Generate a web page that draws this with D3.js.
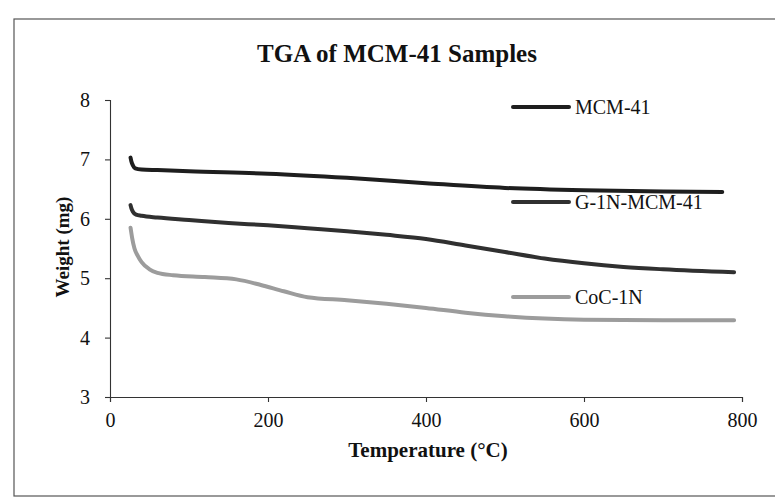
<!DOCTYPE html>
<html>
<head>
<meta charset="utf-8">
<script src="https://cdn.jsdelivr.net/npm/d3@7"></script>
<style>
  body { margin: 0; background: #fff; }
  svg { display: block; }
</style>
</head>
<body>
<div id="wrapper"></div>
<script>
// data
const seriesNames = ["MCM-41", "G-1N-MCM-41", "CoC-1N"];

const tempMCM = [26, 27, 29, 32, 40, 60, 100, 200, 300, 400, 500, 600, 700, 775];
const weightMCM = [7.03, 6.97, 6.9, 6.85, 6.83, 6.82, 6.8, 6.76, 6.69, 6.6, 6.52, 6.48, 6.46, 6.45];

const tempG1N = [26, 27, 29, 33, 40, 60, 100, 150, 200, 250, 300, 350, 400, 450, 500, 550, 600, 650, 700, 790];
const weightG1N = [6.23, 6.18, 6.12, 6.07, 6.05, 6.02, 5.98, 5.93, 5.89, 5.84, 5.79, 5.73, 5.66, 5.55, 5.44, 5.33, 5.25, 5.19, 5.15, 5.1];

const tempCoC = [26, 28, 31, 35, 40, 50, 60, 80, 120, 160, 190, 220, 250, 300, 350, 400, 450, 500, 550, 600, 700, 790];
const weightCoC = [5.85, 5.68, 5.5, 5.38, 5.27, 5.15, 5.09, 5.05, 5.02, 4.98, 4.89, 4.78, 4.68, 4.63, 4.57, 4.5, 4.42, 4.36, 4.32, 4.3, 4.29, 4.29];

const xTickValues = [0, 200, 400, 600, 800];
const yTickValues = [3, 4, 5, 6, 7, 8];

const chartTitle = "TGA of MCM-41 Samples";
const xTitle = "Temperature (\u00B0C)";
const yTitle = "Weight (mg)";

const series = [
  { name: seriesNames[0], temp: tempMCM, weight: weightMCM, color: "#1e1e1e" },
  { name: seriesNames[1], temp: tempG1N, weight: weightG1N, color: "#303030" },
  { name: seriesNames[2], temp: tempCoC, weight: weightCoC, color: "#9c9c9c" },
];

const dimensions = {
  width: 775,
  height: 498,
  margin: { top: 100, right: 33, bottom: 101, left: 110 },
};
dimensions.boundedWidth = dimensions.width - dimensions.margin.left - dimensions.margin.right;
dimensions.boundedHeight = dimensions.height - dimensions.margin.top - dimensions.margin.bottom;

const serif = "'Liberation Serif', 'Times New Roman', serif";

const wrapper = d3
  .select("#wrapper")
  .append("svg")
  .attr("width", dimensions.width)
  .attr("height", dimensions.height);

// outer frame of the scanned figure
wrapper
  .append("rect")
  .attr("x", 14)
  .attr("y", 19)
  .attr("width", dimensions.width + 10)
  .attr("height", 477)
  .attr("fill", "none")
  .attr("stroke", "#555")
  .attr("stroke-width", 1.2);

const bound = wrapper
  .append("g")
  .attr("transform", `translate(${dimensions.margin.left},${dimensions.margin.top})`);

// scales
const xScale = d3.scaleLinear().domain([0, 800]).range([0, dimensions.boundedWidth]);
const yScale = d3.scaleLinear().domain([3, 8]).range([dimensions.boundedHeight, 0]);

// axes
const xAxis = d3
  .axisBottom(xScale)
  .tickValues(xTickValues)
  .tickFormat(d3.format(".0f"))
  .tickSize(5)
  .tickPadding(11);
const yAxis = d3
  .axisLeft(yScale)
  .tickValues(yTickValues)
  .tickFormat(d3.format(".0f"))
  .tickSize(5)
  .tickPadding(15);

bound
  .append("g")
  .attr("class", "x-axis")
  .attr("transform", `translate(0,${dimensions.boundedHeight})`)
  .call(xAxis);

bound.append("g").attr("class", "y-axis").call(yAxis);

bound
  .selectAll(".domain, .tick line")
  .attr("stroke", "#333")
  .attr("stroke-width", 1.1);

bound
  .selectAll(".tick text")
  .attr("fill", "#111")
  .style("font-family", serif)
  .style("font-size", "20px");

// lines
const line = d3
  .line()
  .curve(d3.curveMonotoneX)
  .x((d) => xScale(d[0]))
  .y((d) => yScale(d[1]));

bound
  .append("g")
  .attr("class", "lines")
  .selectAll("path")
  .data(series)
  .join("path")
  .attr("fill", "none")
  .attr("stroke", (d) => d.color)
  .attr("stroke-width", 4)
  .attr("stroke-linejoin", "round")
  .attr("stroke-linecap", "round")
  .attr("d", (d) => line(d3.zip(d.temp, d.weight)));

// legend
const legendY = [107, 202, 297];
const legend = wrapper
  .append("g")
  .attr("class", "legend")
  .selectAll("g")
  .data(series)
  .join("g")
  .attr("transform", (d, i) => `translate(513,${legendY[i]})`);

legend
  .append("line")
  .attr("x1", 0)
  .attr("x2", 56)
  .attr("stroke", (d) => d.color)
  .attr("stroke-width", 4)
  .attr("stroke-linecap", "round");

legend
  .append("text")
  .attr("x", 62)
  .attr("dy", "0.35em")
  .style("font-family", serif)
  .style("font-size", "20px")
  .attr("fill", "#111")
  .text((d) => d.name);

// titles
wrapper
  .append("text")
  .attr("x", 397)
  .attr("y", 62)
  .attr("text-anchor", "middle")
  .style("font-family", serif)
  .style("font-size", "25px")
  .style("font-weight", "bold")
  .attr("fill", "#111")
  .text(chartTitle);

wrapper
  .append("text")
  .attr("x", 428)
  .attr("y", 457)
  .attr("text-anchor", "middle")
  .style("font-family", serif)
  .style("font-size", "21px")
  .style("font-weight", "bold")
  .attr("fill", "#111")
  .text(xTitle);

wrapper
  .append("text")
  .attr("transform", "translate(69,247) rotate(-90)")
  .attr("text-anchor", "middle")
  .style("font-family", serif)
  .style("font-size", "19px")
  .style("font-weight", "bold")
  .attr("fill", "#111")
  .text(yTitle);
</script>
</body>
</html>
